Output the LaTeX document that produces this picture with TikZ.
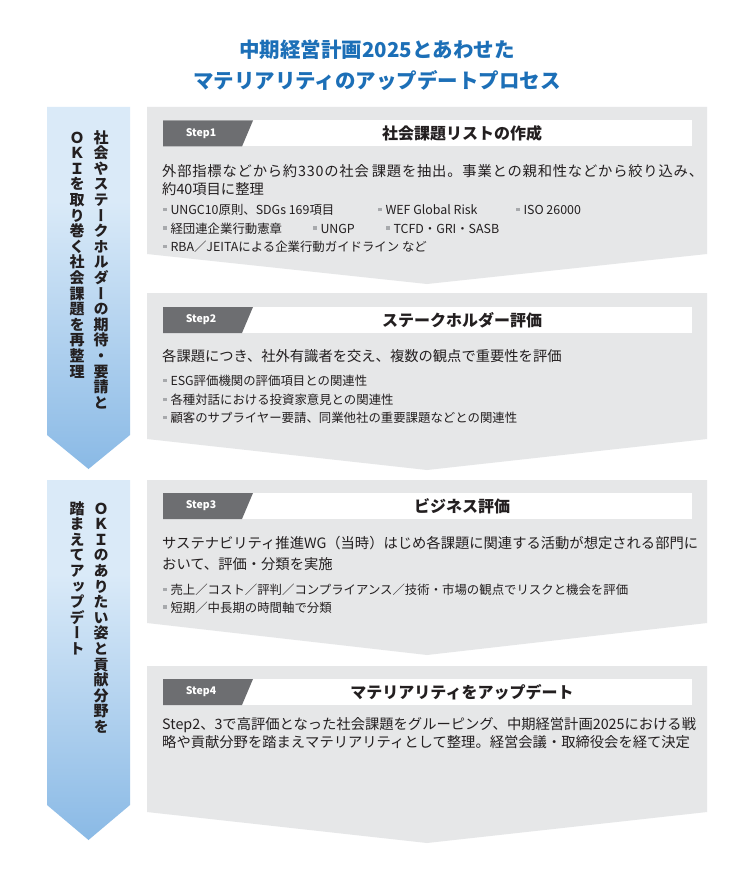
\documentclass[tikz,border=0pt]{standalone}
\usepackage{fontspec}
\setmainfont{Noto Sans CJK JP}
\newfontfamily\vfont[RawFeature=+vert]{Noto Sans CJK JP}
\definecolor{titleblue}{HTML}{1C6FB7}
\definecolor{panelgray}{HTML}{E6E7E8}
\definecolor{stepgray}{HTML}{6D6E71}
\definecolor{bulletgray}{HTML}{A7A9AC}
\definecolor{alight}{HTML}{DAEAF8}
\definecolor{adark}{HTML}{7FB3E3}
\definecolor{textblack}{HTML}{231F20}
\pgfdeclareverticalshading{arrowshade}{100bp}{color(0bp)=(adark); color(20bp)=(adark); color(62bp)=(alight); color(100bp)=(alight)}
\makeatletter
\def\vc@end{\vc@end}
\newcommand\vcol[1]{\vbox{\offinterlineskip\vc@loop#1\vc@end}}
\def\vc@loop#1{\ifx#1\vc@end\else\hbox to 1em{\hss\vrule height .92em depth .12em width 0pt\relax#1\hss}\expandafter\vc@loop\fi}
\makeatother
\newcommand\bsq{\textcolor{bulletgray}{\rule[0.28em]{3.3pt}{3.3pt}}\hspace{4pt}}
\tikzset{
  panel/.style={fill=panelgray, draw=none},
  hdrbox/.style={fill=white, draw=none},
  steplabel/.style={fill=stepgray, draw=none},
  steptext/.style={font=\bfseries\fontsize{10.5}{12}\selectfont, text=white, inner sep=0},
  htitle/.style={font=\bfseries\fontsize{16}{18}\selectfont, text=textblack, inner sep=0},
  bodytext/.style={font=\fontsize{14.3}{18}\selectfont, anchor=west, inner sep=0, text=textblack},
  bultext/.style={font=\fontsize{12.4}{15}\selectfont, anchor=west, inner sep=0, text=textblack},
  vtext/.style={font=\vfont\bfseries\fontsize{15}{15}\selectfont, anchor=north, inner sep=0, text=textblack},
  titletext/.style={font=\bfseries\fontsize{20.5}{24}\selectfont, text=titleblue, inner sep=0},
}
\begin{document}
\begin{tikzpicture}[x=1pt,y=-1pt]
\useasboundingbox (0,0) rectangle (754,877);
\fill[white] (0,0) rectangle (754,877);

% title
\node[titletext] (t1) at (377,50) {中期経営計画2025とあわせた};
\node[titletext] (t2) at (377,81) {マテリアリティのアップデートプロセス};

% left arrows
\shade[shading=arrowshade] (47,107) -- (130,107) -- (130,435) -- (88.5,469) -- (47,435) -- cycle;
\shade[shading=arrowshade] (47,480) -- (130,480) -- (130,805) -- (88.5,840) -- (47,805) -- cycle;
\node[vtext] (a1r) at (101,129) {\vcol{社会やステークホルダーの期待・要請と}};
\node[vtext] (a1l) at (77,129) {\vcol{ＯＫＩを取り巻く社会課題を再整理}};
\node[vtext] (a2r) at (101,500) {\vcol{ＯＫＩのありたい姿と貢献分野を}};
\node[vtext] (a2l) at (77,500) {\vcol{踏まえてアップデート}};

% panels
\fill[panel] (147,107) -- (707,107) -- (707,254) -- (427,284) -- (147,254) -- cycle;
\fill[panel] (147,293) -- (707,293) -- (707,439) -- (427,470) -- (147,439) -- cycle;
\fill[panel] (147,480) -- (707,480) -- (707,623) -- (427,655) -- (147,623) -- cycle;
\fill[panel] (147,666) -- (707,666) -- (707,812) -- (427,843) -- (147,812) -- cycle;

% headers
\fill[hdrbox] (163,120.5) rectangle (692,146.5);
\fill[steplabel] (163,120.5) -- (253,120.5) -- (242,146.5) -- (163,146.5) -- cycle;
\node[steptext] (s1) at (201,133.5) {Step1};
\node[htitle] (h1) at (462,133.5) {社会課題リストの作成};

\fill[hdrbox] (163,307) rectangle (692,333);
\fill[steplabel] (163,307) -- (253,307) -- (242,333) -- (163,333) -- cycle;
\node[steptext] (s2) at (201,320) {Step2};
\node[htitle] (h2) at (462,320) {ステークホルダー評価};

\fill[hdrbox] (163,493) rectangle (692,519);
\fill[steplabel] (163,493) -- (253,493) -- (242,519) -- (163,519) -- cycle;
\node[steptext] (s3) at (201,506) {Step3};
\node[htitle] (h3) at (462,506) {ビジネス評価};

\fill[hdrbox] (163,679) rectangle (692,705);
\fill[steplabel] (163,679) -- (253,679) -- (242,705) -- (163,705) -- cycle;
\node[steptext] (s4) at (201,692) {Step4};
\node[htitle] (h4) at (462,692) {マテリアリティをアップデート};

% panel 1 body
\node[bodytext] (p1a) at (162,171) {\addfontfeature{LetterSpace=5.6}外部指標などから約330の社会\hspace{3pt}課題を抽出。事業との親和性などから絞り込み、};
\node[bodytext] (p1b) at (162,189) {約40項目に整理};
\node[bultext] (p1c) at (163,210) {\bsq UNGC10原則、SDGs 169項目};
\node[bultext] (p1d) at (378,210) {\bsq WEF Global Risk};
\node[bultext] (p1e) at (516,210) {\bsq ISO 26000};
\node[bultext] (p1f) at (163,228.5) {\bsq 経団連企業行動憲章};
\node[bultext] (p1g) at (313,228.5) {\bsq UNGP};
\node[bultext] (p1h) at (386,228.5) {\bsq TCFD・GRI・SASB};
\node[bultext] (p1i) at (163,246.7) {\bsq RBA／JEITAによる企業行動ガイドライン など};

% panel 2 body
\node[bodytext] (p2a) at (162,356) {各課題につき、社外有識者を交え、複数の観点で重要性を評価};
\node[bultext] (p2b) at (163,381) {\bsq ESG評価機関の評価項目との関連性};
\node[bultext] (p2c) at (163,400) {\bsq 各種対話における投資家意見との関連性};
\node[bultext] (p2d) at (163,418) {\bsq 顧客のサプライヤー要請、同業他社の重要課題などとの関連性};

% panel 3 body
\node[bodytext] (p3a) at (162,542.7) {サステナビリティ推進WG（当時）はじめ各課題に関連する活動が想定される部門に};
\node[bodytext] (p3b) at (162,564) {おいて、評価・分類を実施};
\node[bultext] (p3c) at (163,590) {\bsq 売上／コスト／評判／コンプライアンス／技術・市場の観点でリスクと機会を評価};
\node[bultext] (p3d) at (163,607.3) {\bsq 短期／中長期の時間軸で分類};

% panel 4 body
\node[bodytext] (p4a) at (162,725) {Step2、3で高評価となった社会課題をグルーピング、中期経営計画2025における戦};
\node[bodytext] (p4b) at (162,742) {略や貢献分野を踏まえマテリアリティとして整理。経営会議・取締役会を経て決定};
\end{tikzpicture}
\end{document}
